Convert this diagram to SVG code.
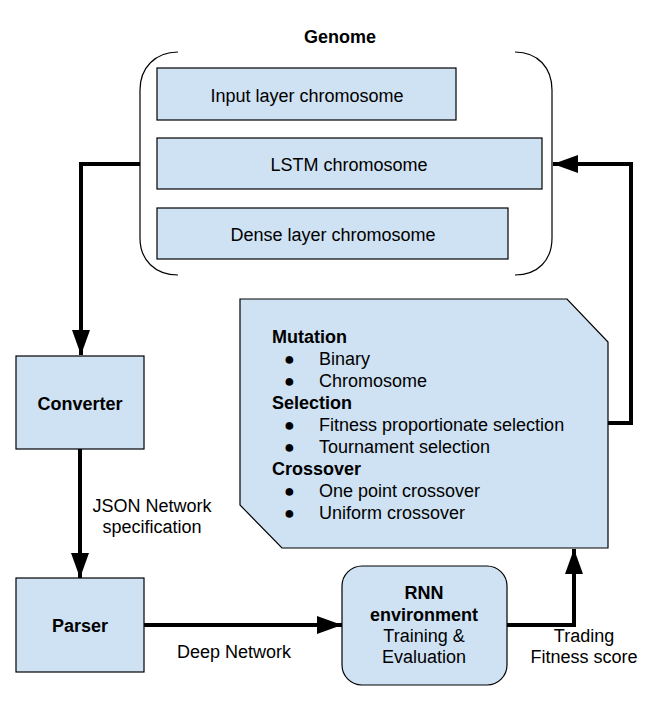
<svg xmlns="http://www.w3.org/2000/svg" width="655" height="701" viewBox="0 0 655 701">
<style>
.box{fill:#cfe2f3;stroke:#000;stroke-width:1.2}
.t{font-family:"Liberation Sans",Arial,sans-serif;font-size:18px;fill:#000}
.b{font-weight:bold}
.c{text-anchor:middle}
.conn{fill:none;stroke:#000;stroke-width:4}
.br{fill:none;stroke:#000;stroke-width:1.2}
</style>
<defs>
<marker id="ah" viewBox="0 0 25 18" refX="25" refY="9" markerWidth="25" markerHeight="18" markerUnits="userSpaceOnUse" orient="auto">
<path d="M0,0 L25,9 L0,18 Z" fill="#000"/>
</marker>
</defs>
<rect width="655" height="701" fill="#fff"/>
<g id="genome">
<text class="t b c" x="340" y="43">Genome</text>
<path class="br" d="M178,52 C155,52 140,68 140,90 L140,238 C140,260 155,275 178,275"/>
<path class="br" d="M515,52 C538,52 552,68 552,90 L552,238 C552,260 538,275 515,275"/>
</g>
<g id="input-layer">
<rect class="box" x="157" y="68" width="299" height="52"/>
<text class="t c" x="307" y="102">Input layer chromosome</text>
</g>
<g id="lstm">
<rect class="box" x="157" y="138" width="385" height="51"/>
<text class="t c" x="349" y="171">LSTM chromosome</text>
</g>
<g id="dense">
<rect class="box" x="157" y="208" width="351" height="51"/>
<text class="t c" x="333" y="241">Dense layer chromosome</text>
</g>
<g id="operators">
<path class="box" d="M240,299 L567,299 L608,342 L608,548 L282,548 L240,505 Z"/>
<text class="t b" x="272" y="343">Mutation</text>
<text class="t" x="284" y="365">●</text><text class="t" x="319" y="365">Binary</text>
<text class="t" x="284" y="387">●</text><text class="t" x="319" y="387">Chromosome</text>
<text class="t b" x="272" y="409">Selection</text>
<text class="t" x="284" y="431">●</text><text class="t" x="319" y="431">Fitness proportionate selection</text>
<text class="t" x="284" y="453">●</text><text class="t" x="319" y="453">Tournament selection</text>
<text class="t b" x="272" y="475">Crossover</text>
<text class="t" x="284" y="497">●</text><text class="t" x="319" y="497">One point crossover</text>
<text class="t" x="284" y="519">●</text><text class="t" x="319" y="519">Uniform crossover</text>
</g>
<g id="converter">
<rect class="box" x="16" y="356" width="128" height="93"/>
<text class="t b c" x="80" y="410">Converter</text>
</g>
<g id="parser">
<rect class="box" x="16" y="578" width="128" height="94"/>
<text class="t b c" x="80" y="632">Parser</text>
</g>
<g id="rnn">
<rect class="box" x="342" y="566" width="165" height="119" rx="20" ry="20"/>
<text class="t b c" x="424" y="599">RNN</text>
<text class="t b c" x="424" y="621">environment</text>
<text class="t c" x="424" y="642">Training &amp;</text>
<text class="t c" x="424" y="663">Evaluation</text>
</g>
<g id="connectors">
<path class="conn" d="M140,164 L81,164 L81,355" marker-end="url(#ah)"/>
<path class="conn" d="M80,449 L80,578" marker-end="url(#ah)"/>
<path class="conn" d="M144,625 L342,625" marker-end="url(#ah)"/>
<path class="conn" d="M507,625 L574,625 L574,549" marker-end="url(#ah)"/>
<path class="conn" d="M608,423 L631,423 L631,164 L553,164" marker-end="url(#ah)"/>
<text class="t c" x="152" y="512">JSON Network</text>
<text class="t c" x="152" y="533">specification</text>
<text class="t c" x="234" y="658">Deep Network</text>
<text class="t c" x="584" y="642">Trading</text>
<text class="t c" x="584" y="663">Fitness score</text>
</g>
</svg>
